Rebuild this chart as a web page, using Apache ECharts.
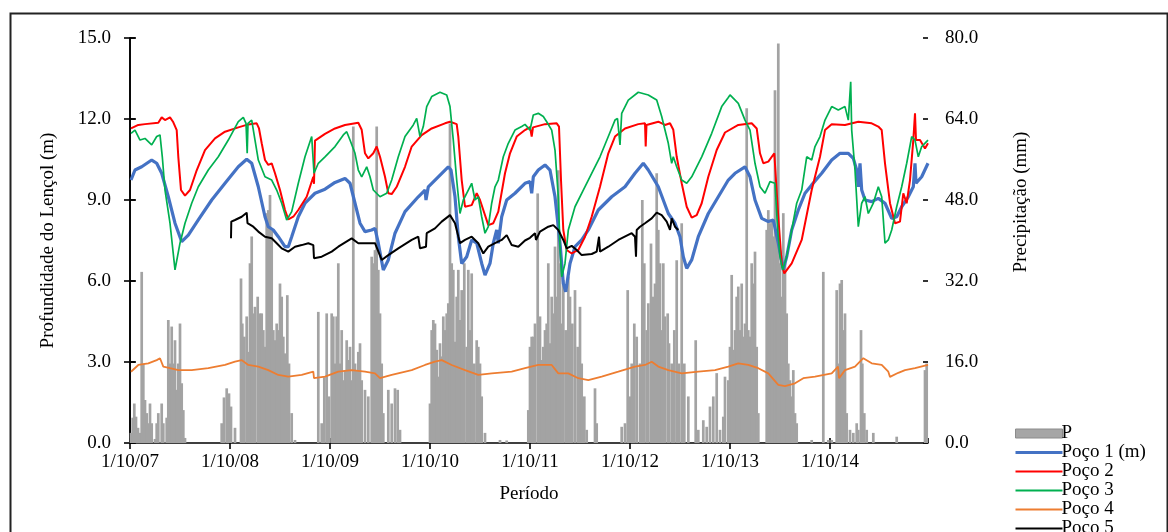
<!DOCTYPE html>
<html>
<head>
<meta charset="utf-8">
<script src="https://cdn.jsdelivr.net/npm/echarts@6/dist/echarts.min.js"></script>
<style>html,body{margin:0;padding:0;background:#fff;}#chart{width:1168px;height:532px;}</style>
</head>
<body>
<div id="chart"></div>
<script>
// x values: years elapsed since 1/10/2007
const tickLabels = ['1/10/07','1/10/08','1/10/09','1/10/10','1/10/11','1/10/12','1/10/13','1/10/14'];
const seriesNames = ['P','Poço 1 (m)','Poço 2','Poço 3','Poço 4','Poço 5'];

const precipitation = [
[0.01,2.0],[0.027,5.0],[0.043,7.8],[0.06,5.2],[0.08,3.0],[0.1,2.0],[0.117,33.8],[0.133,15.7],[0.15,8.5],[0.167,5.9],[0.183,3.9],[0.2,7.8],[0.217,3.9],[0.25,0.8],[0.267,3.9],[0.283,5.9],[0.317,7.8],[0.333,3.9],
[0.367,5.0],[0.383,24.3],[0.4,15.7],[0.417,23.0],[0.433,15.7],[0.45,20.3],[0.467,10.5],[0.483,15.7],[0.5,23.6],[0.517,11.8],[0.533,6.5],[0.55,1.0],
[0.917,3.9],[0.94,9.0],[0.967,10.8],[0.99,9.8],[1.01,7.2],[1.05,3.0],
[1.11,32.5],[1.123,23.6],[1.143,21.0],[1.167,25.0],[1.183,18.0],[1.2,35.5],[1.217,40.8],[1.233,25.6],[1.25,26.9],[1.277,28.9],[1.3,25.6],[1.317,25.6],[1.333,22.3],[1.35,19.0],[1.367,45.4],[1.383,46.0],[1.4,49.0],[1.417,42.0],[1.433,22.3],[1.45,20.3],[1.467,23.6],[1.483,22.3],[1.5,31.5],[1.517,28.9],[1.533,21.0],[1.55,17.7],[1.573,29.2],[1.59,15.7],[1.617,5.9],[1.65,0.6],
[1.883,25.9],[1.917,3.9],[1.943,13.0],[1.967,25.6],[1.99,9.2],[2.017,25.6],[2.033,25.0],[2.05,15.7],[2.067,25.0],[2.083,35.5],[2.1,15.7],[2.117,22.3],[2.133,12.4],[2.15,14.4],[2.167,20.3],[2.183,16.4],[2.2,19.0],[2.217,12.4],[2.233,62.5],[2.25,15.7],[2.267,14.4],[2.283,18.0],[2.3,19.7],[2.317,12.4],[2.35,10.5],[2.383,9.2],[2.417,36.8],[2.433,35.5],[2.45,38.1],[2.467,62.5],[2.483,34.2],[2.5,25.6],[2.517,15.7],[2.533,5.9],[2.583,10.5],[2.617,7.8],[2.65,10.8],[2.677,10.5],[2.7,2.6],
[3.0,7.8],[3.017,22.3],[3.033,24.3],[3.05,23.6],[3.067,18.4],[3.083,13.1],[3.1,19.7],[3.117,17.1],[3.133,25.0],[3.15,22.3],[3.167,25.6],[3.183,27.6],[3.2,63.1],[3.217,35.5],[3.233,34.2],[3.25,20.0],[3.267,28.9],[3.283,34.2],[3.3,24.3],[3.317,30.2],[3.343,35.5],[3.367,19.0],[3.383,34.2],[3.4,22.3],[3.417,33.5],[3.443,15.7],[3.467,20.3],[3.483,19.0],[3.5,15.7],[3.517,9.2],[3.55,2.0],[3.7,0.6],[3.767,0.5],
[3.983,6.5],[4.0,19.0],[4.017,21.0],[4.033,21.0],[4.05,23.6],[4.077,49.3],[4.1,25.0],[4.117,16.4],[4.133,19.0],[4.15,22.3],[4.167,23.6],[4.183,35.5],[4.2,19.7],[4.217,28.9],[4.233,25.6],[4.25,38.8],[4.267,28.9],[4.283,53.9],[4.3,35.5],[4.317,23.6],[4.333,32.2],[4.357,22.3],[4.383,32.9],[4.4,28.9],[4.423,23.6],[4.45,30.2],[4.477,19.0],[4.5,26.9],[4.517,15.7],[4.543,9.2],[4.567,2.6],[4.65,10.8],[4.667,3.9],
[4.917,3.2],[4.95,3.9],[4.977,30.2],[5.0,9.2],[5.017,15.7],[5.043,23.6],[5.067,21.0],[5.1,15.7],[5.123,48.0],[5.143,35.5],[5.167,22.3],[5.183,27.6],[5.21,39.4],[5.233,28.9],[5.25,31.5],[5.267,53.3],[5.283,42.1],[5.3,35.5],[5.317,22.3],[5.333,35.5],[5.35,25.0],[5.377,25.6],[5.39,19.7],[5.417,15.7],[5.443,22.3],[5.467,36.1],[5.49,15.7],[5.517,43.4],[5.543,15.7],[5.583,9.2],
[5.657,20.3],[5.683,2.6],[5.733,4.5],[5.767,3.2],[5.8,7.2],[5.833,9.2],[5.867,13.8],[5.9,2.6],[5.933,5.2],[5.95,13.1],[5.983,12.4],[6.0,19.0],[6.017,33.2],[6.033,18.4],[6.05,22.3],[6.067,28.9],[6.083,30.9],[6.1,22.3],[6.117,31.5],[6.133,21.0],[6.15,23.6],[6.167,66.1],[6.183,22.3],[6.2,21.0],[6.217,35.5],[6.233,31.5],[6.25,37.8],[6.267,19.0],[6.283,5.9],
[6.367,42.1],[6.383,46.0],[6.4,43.4],[6.417,44.0],[6.433,40.8],[6.45,69.7],[6.467,42.1],[6.483,78.9],[6.5,35.5],[6.517,28.9],[6.533,45.4],[6.55,35.5],[6.567,25.6],[6.583,15.7],[6.6,12.4],[6.617,9.2],[6.633,14.4],[6.65,5.9],[6.667,3.9],
[6.817,0.6],[6.933,33.8],[6.983,0.6],[7.017,0.6],[7.067,30.2],[7.083,15.7],[7.1,31.5],[7.117,32.2],[7.133,22.3],[7.15,25.6],[7.167,5.9],[7.2,2.6],[7.233,2.0],[7.267,3.9],[7.283,2.6],[7.31,22.3],[7.323,15.7],[7.343,5.9],[7.367,2.6],[7.433,2.0],[7.667,1.25],[7.95,14.4],[7.967,15.7]
];

const poco1 = [
[0.01,9.74],[0.05,10.11],[0.117,10.23],[0.217,10.48],[0.267,10.36],[0.317,9.99],[0.383,9.12],[0.45,8.14],[0.517,7.46],[0.583,7.7],[0.683,8.26],[0.817,9.0],[0.95,9.62],[1.083,10.23],[1.167,10.51],[1.217,10.36],[1.283,9.49],[1.35,8.38],[1.383,8.01],[1.433,7.89],[1.483,7.64],[1.55,7.27],[1.583,7.27],[1.617,7.64],[1.683,8.38],[1.75,8.88],[1.85,9.25],[1.95,9.4],[2.05,9.65],[2.15,9.8],[2.2,9.62],[2.25,8.88],[2.3,8.14],[2.35,7.83],[2.417,7.89],[2.45,7.95],[2.483,7.4],[2.533,6.41],[2.583,6.78],[2.65,7.77],[2.75,8.57],[2.883,9.12],[2.95,9.37],[2.96,9.0],[2.983,9.49],[3.083,9.86],[3.183,10.23],[3.21,10.11],[3.25,9.12],[3.283,7.64],[3.317,6.65],[3.367,6.9],[3.417,7.52],[3.467,7.4],[3.517,6.65],[3.55,6.22],[3.6,6.65],[3.633,7.4],[3.667,7.89],[3.683,7.4],[3.717,8.38],[3.767,9.0],[3.85,9.25],[3.95,9.62],[4.0,9.68],[4.017,9.25],[4.033,9.86],[4.083,10.11],[4.15,10.3],[4.2,10.11],[4.25,9.12],[4.3,7.4],[4.333,5.91],[4.357,5.6],[4.4,6.65],[4.45,7.27],[4.517,7.52],[4.583,7.89],[4.683,8.63],[4.817,9.12],[4.95,9.49],[5.05,9.99],[5.133,10.36],[5.183,10.11],[5.283,9.49],[5.383,8.5],[5.45,8.14],[5.5,7.64],[5.533,6.9],[5.567,6.47],[5.617,6.78],[5.683,7.64],[5.783,8.5],[5.883,9.12],[5.983,9.74],[6.05,9.99],[6.15,10.23],[6.2,9.86],[6.25,9.0],[6.317,8.32],[6.383,8.2],[6.433,8.26],[6.483,7.4],[6.533,6.41],[6.567,6.9],[6.617,7.89],[6.683,8.63],[6.75,9.25],[6.817,9.56],[6.917,9.99],[7.017,10.48],[7.1,10.73],[7.183,10.73],[7.233,10.54],[7.267,10.11],[7.283,9.49],[7.3,10.36],[7.317,9.37],[7.35,9.0],[7.417,8.94],[7.483,9.06],[7.55,8.88],[7.617,8.32],[7.667,8.38],[7.717,8.75],[7.783,9.12],[7.833,9.49],[7.85,10.36],[7.86,9.62],[7.917,9.86],[7.98,10.36]
];

const poco2 = [
[0.01,11.65],[0.083,11.78],[0.15,11.81],[0.283,11.86],[0.317,12.06],[0.35,11.96],[0.40,12.06],[0.43,11.9],[0.467,11.59],[0.483,10.6],[0.51,9.37],[0.55,9.16],[0.60,9.37],[0.667,10.1],[0.75,10.85],[0.85,11.28],[0.95,11.53],[1.083,11.69],[1.183,11.8],[1.267,11.84],[1.29,11.65],[1.317,11.1],[1.35,10.48],[1.383,10.3],[1.417,10.36],[1.45,9.99],[1.50,9.37],[1.55,8.63],[1.583,8.28],[1.633,8.38],[1.683,8.63],[1.767,9.12],[1.833,9.86],[1.84,9.6],[1.85,11.2],[1.95,11.45],[2.05,11.65],[2.15,11.78],[2.283,11.86],[2.317,11.6],[2.35,10.73],[2.383,10.54],[2.433,10.73],[2.467,10.98],[2.5,10.6],[2.55,9.86],[2.583,9.25],[2.617,9.22],[2.667,9.49],[2.75,10.23],[2.817,10.98],[2.917,11.4],[3.017,11.65],[3.15,11.84],[3.2,11.9],[3.267,11.81],[3.283,11.35],[3.317,9.74],[3.35,8.75],[3.417,8.81],[3.467,9.25],[3.5,9.0],[3.533,8.63],[3.583,8.07],[3.633,8.14],[3.683,8.57],[3.75,9.99],[3.8,10.73],[3.867,11.35],[3.95,11.59],[4.0,11.7],[4.017,11.35],[4.03,11.69],[4.15,11.81],[4.267,11.84],[4.29,11.72],[4.31,9.74],[4.333,7.89],[4.367,7.15],[4.417,7.02],[4.483,7.15],[4.55,7.64],[4.617,8.38],[4.7,9.49],[4.783,10.73],[4.85,11.35],[4.95,11.65],[5.083,11.81],[5.15,11.84],[5.157,10.98],[5.165,11.78],[5.283,11.9],[5.35,11.78],[5.4,11.84],[5.433,11.6],[5.467,10.6],[5.517,9.62],[5.567,8.75],[5.617,8.35],[5.667,8.44],[5.717,8.88],[5.783,9.86],[5.867,10.85],[5.95,11.5],[6.083,11.78],[6.217,11.84],[6.267,11.65],[6.3,10.73],[6.333,10.36],[6.383,10.42],[6.443,10.73],[6.46,10.67],[6.483,8.38],[6.517,6.65],[6.543,6.28],[6.617,6.65],[6.717,7.52],[6.817,9.37],[6.9,10.6],[6.95,11.59],[7.017,11.81],[7.15,11.78],[7.283,11.9],[7.417,11.84],[7.483,11.72],[7.517,11.59],[7.55,10.36],[7.6,8.88],[7.65,8.14],[7.7,8.2],[7.733,9.25],[7.767,8.88],[7.8,9.74],[7.833,11.22],[7.85,12.21],[7.86,11.22],[7.9,11.22],[7.95,10.91],[7.98,11.1]
];

const poco3 = [
[0.01,11.47],[0.05,11.59],[0.1,11.22],[0.15,11.28],[0.217,11.04],[0.267,11.35],[0.3,11.41],[0.323,10.6],[0.35,9.37],[0.4,8.14],[0.45,6.41],[0.5,7.4],[0.55,8.14],[0.617,8.88],[0.683,9.49],[0.783,10.11],[0.883,10.6],[0.983,11.22],[1.083,11.9],[1.133,12.06],[1.16,11.84],[1.172,10.73],[1.18,11.84],[1.217,11.96],[1.25,11.22],[1.283,10.48],[1.35,9.86],[1.417,9.74],[1.467,9.37],[1.517,8.88],[1.567,8.26],[1.617,8.57],[1.683,9.62],[1.75,10.6],[1.817,11.35],[1.84,9.99],[1.883,10.36],[1.95,10.6],[2.05,10.98],[2.133,11.41],[2.167,11.53],[2.2,11.22],[2.25,10.73],[2.283,10.11],[2.317,9.86],[2.367,10.23],[2.4,9.86],[2.433,9.37],[2.5,9.12],[2.567,9.25],[2.617,9.74],[2.683,10.6],[2.75,11.35],[2.833,11.78],[2.867,12.02],[2.9,11.35],[2.933,11.72],[2.967,12.46],[3.017,12.83],[3.1,12.99],[3.167,12.89],[3.2,12.46],[3.233,11.22],[3.267,9.74],[3.3,8.5],[3.333,9.0],[3.383,9.37],[3.417,9.62],[3.45,9.0],[3.483,9.12],[3.517,8.38],[3.55,7.77],[3.583,8.01],[3.617,8.88],[3.65,9.49],[3.683,9.74],[3.733,10.6],[3.783,11.1],[3.85,11.59],[3.917,11.72],[3.95,11.8],[4.0,11.59],[4.033,12.15],[4.083,12.21],[4.133,12.09],[4.167,11.9],[4.217,11.59],[4.25,10.85],[4.283,9.12],[4.3,7.27],[4.317,6.16],[4.35,6.65],[4.383,7.89],[4.45,8.75],[4.533,9.37],[4.617,9.99],[4.7,10.6],[4.783,11.35],[4.85,11.96],[4.875,12.02],[4.9,11.04],[4.917,12.21],[4.983,12.7],[5.083,12.99],[5.183,12.89],[5.267,12.7],[5.317,12.09],[5.35,11.59],[5.383,11.1],[5.417,10.36],[5.433,10.6],[5.467,10.23],[5.517,9.74],[5.567,9.62],[5.617,9.86],[5.717,10.6],[5.817,11.47],[5.917,12.46],[5.983,12.8],[6.0,12.89],[6.083,12.58],[6.15,11.96],[6.2,11.59],[6.25,10.36],[6.3,9.49],[6.35,9.25],[6.4,9.68],[6.45,9.62],[6.477,7.89],[6.5,6.9],[6.527,6.41],[6.567,6.9],[6.617,7.89],[6.667,8.88],[6.717,9.37],[6.767,10.6],[6.817,10.48],[6.85,10.98],[6.9,11.35],[6.95,11.96],[7.017,12.46],[7.083,12.33],[7.15,12.46],[7.183,11.96],[7.2,11.96],[7.207,13.38],[7.217,11.59],[7.25,10.11],[7.283,8.01],[7.317,8.88],[7.35,9.12],[7.383,8.5],[7.433,8.88],[7.483,9.49],[7.517,9.12],[7.55,7.4],[7.583,7.52],[7.617,7.89],[7.667,8.75],[7.717,9.49],[7.767,10.36],[7.817,11.35],[7.85,11.22],[7.883,10.6],[7.917,10.98],[7.98,11.22]
];

const poco4 = [
[0.01,2.64],[0.083,2.89],[0.183,2.95],[0.267,3.07],[0.3,3.14],[0.333,2.83],[0.4,2.77],[0.483,2.7],[0.617,2.7],[0.783,2.77],[0.95,2.89],[1.05,3.01],[1.117,3.07],[1.183,2.89],[1.283,2.83],[1.383,2.7],[1.483,2.52],[1.583,2.46],[1.717,2.52],[1.833,2.64],[1.84,2.4],[1.95,2.46],[2.083,2.64],[2.217,2.7],[2.35,2.64],[2.45,2.58],[2.5,2.4],[2.617,2.52],[2.817,2.7],[2.95,2.89],[3.05,3.01],[3.117,3.07],[3.217,2.89],[3.35,2.7],[3.483,2.52],[3.617,2.58],[3.817,2.64],[3.95,2.77],[4.083,2.89],[4.217,2.89],[4.283,2.58],[4.383,2.58],[4.483,2.4],[4.583,2.33],[4.717,2.46],[4.883,2.64],[5.05,2.83],[5.15,2.89],[5.217,3.01],[5.283,2.83],[5.383,2.7],[5.517,2.58],[5.683,2.64],[5.85,2.7],[5.983,2.83],[6.083,2.95],[6.183,2.89],[6.283,2.77],[6.383,2.58],[6.483,2.15],[6.55,2.11],[6.65,2.21],[6.733,2.4],[6.85,2.46],[7.017,2.58],[7.08,2.83],[7.09,2.4],[7.15,2.7],[7.25,2.83],[7.333,3.14],[7.417,2.95],[7.517,2.89],[7.583,2.64],[7.6,2.45],[7.683,2.6],[7.75,2.7],[7.85,2.77],[7.98,2.89]
];

const poco5 = [
[1.01,7.58],[1.013,8.2],[1.05,8.26],[1.117,8.38],[1.167,8.53],[1.175,8.14],[1.233,8.01],[1.283,7.83],[1.35,7.64],[1.417,7.58],[1.467,7.4],[1.517,7.21],[1.583,7.09],[1.65,7.27],[1.717,7.33],[1.783,7.4],[1.833,7.33],[1.84,6.84],[1.917,6.9],[2.017,7.09],[2.083,7.27],[2.217,7.58],[2.283,7.4],[2.45,7.4],[2.517,6.78],[2.583,6.96],[2.683,7.21],[2.817,7.52],[2.883,7.64],[2.9,7.21],[2.96,7.27],[2.967,7.77],[3.05,7.95],[3.117,8.2],[3.2,8.44],[3.25,8.14],[3.3,7.4],[3.35,7.52],[3.417,7.64],[3.483,7.4],[3.533,7.02],[3.583,7.27],[3.65,7.4],[3.717,7.52],[3.767,7.7],[3.817,7.33],[3.883,7.27],[3.95,7.5],[4.0,7.6],[4.05,7.77],[4.06,7.52],[4.1,7.83],[4.183,8.01],[4.233,8.07],[4.283,7.89],[4.333,7.52],[4.367,7.21],[4.417,7.3],[4.467,7.15],[4.517,6.96],[4.617,7.0],[4.667,7.09],[4.69,7.64],[4.7,7.09],[4.783,7.27],[4.883,7.52],[5.017,7.77],[5.05,7.64],[5.06,6.9],[5.067,7.89],[5.1,8.01],[5.15,8.14],[5.217,8.32],[5.267,8.53],[5.317,8.44],[5.367,8.2],[5.4,7.89],[5.417,8.32],[5.45,8.01],[5.483,7.89]
];

const FONT = 'Liberation Serif';
const axisLineStyle = { color: '#000', width: 1.6 };
const labelStyle = { fontFamily: FONT, fontSize: 19, color: '#000' };

const chart = echarts.init(document.getElementById('chart'), null, { renderer: 'canvas' });

function lineSeries(name, data, color, width) {
  return {
    name: name, type: 'line', data: data, xAxisIndex: 0, yAxisIndex: 0,
    symbol: 'none', showSymbol: false, smooth: false,
    lineStyle: { color: color, width: width }, itemStyle: { color: color },
    z: 3
  };
}
function lineIcon(thickness) {
  return 'path://M0,0H47V' + thickness + 'H0Z';
}

const option = {
  animation: false,
  backgroundColor: '#fff',
  grid: { left: 130, right: 240, top: 38, bottom: 89, containLabel: false },
  graphic: [{
    type: 'rect', left: 8, top: 11, silent: true,
    shape: { width: 1157, height: 560 },
    style: { fill: 'none', stroke: '#222', lineWidth: 2 }
  }],
  legend: {
    orient: 'vertical', left: 1010, top: 419, height: 200,
    itemWidth: 47, itemHeight: 9, itemGap: 0, symbolKeepAspect: true,
    textStyle: { fontFamily: FONT, fontSize: 19, color: '#000', padding: [0, 0, 0, -6] },
    data: [
      { name: seriesNames[0], icon: 'rect', itemStyle: { color: '#a6a6a6', borderColor: '#8c8c8c', borderWidth: 1 } },
      { name: seriesNames[1], icon: lineIcon(3.2) },
      { name: seriesNames[2], icon: lineIcon(2) },
      { name: seriesNames[3], icon: lineIcon(1.8) },
      { name: seriesNames[4], icon: lineIcon(1.8) },
      { name: seriesNames[5], icon: lineIcon(2) }
    ]
  },
  xAxis: [{
    type: 'value', min: 0, max: 7.98, interval: 1, position: 'bottom',
    axisLine: { show: true, onZero: false, lineStyle: axisLineStyle },
    axisTick: { show: true, length: 6, lineStyle: axisLineStyle },
    splitLine: { show: false },
    axisLabel: Object.assign({ margin: 10, showMaxLabel: false,
      formatter: function (v) { return Number.isInteger(v) ? (tickLabels[v] || '') : ''; } }, labelStyle),
    name: 'Período', nameLocation: 'middle', nameGap: 42,
    nameTextStyle: { fontFamily: FONT, fontSize: 19, color: '#000' }
  }, {
    type: 'value', min: 0, max: 7.98, interval: 1, position: 'bottom',
    axisLine: { show: false }, axisLabel: { show: false }, splitLine: { show: false },
    axisTick: { show: true, inside: true, length: 5, lineStyle: axisLineStyle }
  }],
  yAxis: [{
    type: 'value', min: 0, max: 15, interval: 3, position: 'left',
    axisLine: { show: true, lineStyle: axisLineStyle },
    axisTick: { show: true, length: 6, lineStyle: axisLineStyle },
    splitLine: { show: false },
    axisLabel: Object.assign({ margin: 19, formatter: function (v) { return v.toFixed(1); } }, labelStyle),
    name: 'Profundidade do Lençol (m)', nameLocation: 'middle', nameGap: 72,
    nameTextStyle: { fontFamily: FONT, fontSize: 19, color: '#000' }
  }, {
    type: 'value', min: 0, max: 80, interval: 16, position: 'right',
    axisLine: { show: true, lineStyle: axisLineStyle },
    axisTick: { show: true, length: 6, lineStyle: axisLineStyle },
    splitLine: { show: false },
    axisLabel: Object.assign({ margin: 17, formatter: function (v) { return v.toFixed(1); } }, labelStyle),
    name: 'Precipitação (mm)', nameLocation: 'middle', nameGap: 84,
    nameTextStyle: { fontFamily: FONT, fontSize: 19, color: '#000', padding: [0, 0, 0, 77] }
  }, {
    type: 'value', min: 0, max: 15, interval: 3, position: 'left',
    axisLine: { show: false }, axisLabel: { show: false }, splitLine: { show: false },
    axisTick: { show: true, inside: true, length: 5, lineStyle: axisLineStyle }
  }, {
    type: 'value', min: 0, max: 80, interval: 16, position: 'right',
    axisLine: { show: false }, axisLabel: { show: false }, splitLine: { show: false },
    axisTick: { show: true, inside: true, length: 5, lineStyle: axisLineStyle }
  }],
  series: [
    {
      name: seriesNames[0], type: 'bar', data: precipitation, xAxisIndex: 0, yAxisIndex: 1,
      barWidth: 2.7, itemStyle: { color: '#a3a3a3' }, z: 2
    },
    lineSeries(seriesNames[1], poco1, '#4472c4', 3.2),
    lineSeries(seriesNames[2], poco2, '#ff0000', 2),
    lineSeries(seriesNames[3], poco3, '#00b050', 1.7),
    lineSeries(seriesNames[4], poco4, '#ed7d31', 1.8),
    lineSeries(seriesNames[5], poco5, '#000000', 2)
  ]
};
chart.setOption(option);
</script>
</body>
</html>
